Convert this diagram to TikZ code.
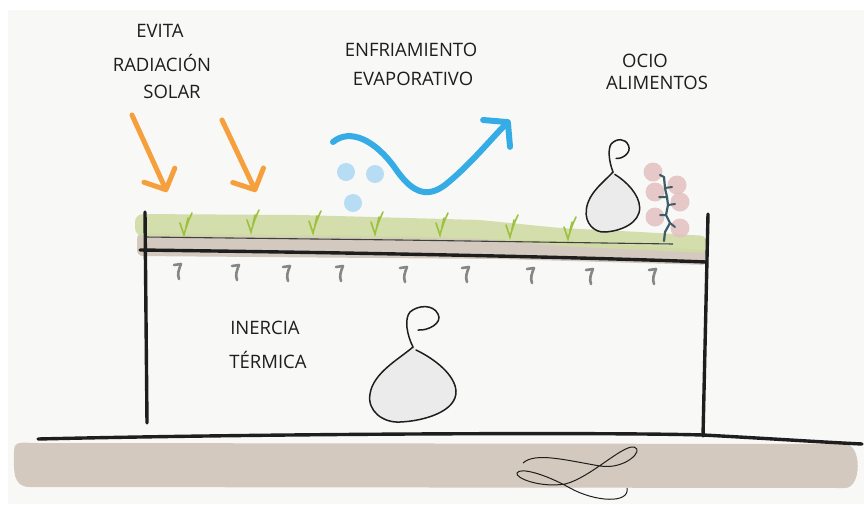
\documentclass[tikz,border=0pt]{standalone}
\usepackage{fontspec}
\setmainfont{Open Sans}
\usetikzlibrary{arrows.meta}

\definecolor{paper}{HTML}{F8F8F7}
\definecolor{ink}{HTML}{1E1E1E}
\definecolor{sun}{HTML}{F5A03C}
\definecolor{vapour}{HTML}{36ACE6}
\definecolor{droplet}{HTML}{B7DDF4}
\definecolor{turf}{HTML}{CFDCA4}
\definecolor{soil}{HTML}{D4C9BE}
\definecolor{leaf}{HTML}{9DC13E}
\definecolor{pebble}{HTML}{868686}
\definecolor{tomato}{HTML}{E4C0C0}
\definecolor{stalk}{HTML}{3D5E68}

\tikzset{
  note/.style={
    inner sep=0pt,
    text=ink,
    text centered,
    align=center,
    font=\fontsize{18.5}{22}\selectfont
  },
  wall/.style={
    draw=ink,
    line width=3.4pt,
    line cap=round
  },
  sunray/.style={
    draw=sun,
    line width=5pt,
    line cap=round,
    -{Straight Barb[length=16pt,width=34pt,line cap=round,line join=round]}
  },
  steam/.style={
    draw=vapour,
    line width=6pt,
    line cap=round,
    -{Straight Barb[length=16pt,width=38pt,line cap=round,line join=round]}
  },
  drop/.pic={
    \fill[black!8] (0,0) .. controls (-14,12) and (-40,26) .. (-43,47)
      .. controls (-46,64) and (-30,76) .. (-13,75)
      .. controls (12,74) and (44,64) .. (43,44)
      .. controls (42,28) and (22,12) .. (0,0) -- cycle;
    \draw[ink, line width=1.5pt, line cap=round]
      (5,-17) .. controls (15,-16) and (30,-24) .. (25,-33)
      .. controls (20,-43) and (5,-42) .. (-3,-35)
      .. controls (-9,-28) and (-6,-12) .. (0,0)
      .. controls (-14,12) and (-40,26) .. (-43,47)
      .. controls (-46,64) and (-30,76) .. (-13,75)
      .. controls (12,74) and (44,64) .. (43,44)
      .. controls (42,28) and (22,12) .. (3,3);
  },
  sprout/.pic={
    \draw[leaf, line width=1.6pt, line cap=round]
      (-4,-12) .. controls (-2,-6) and (-1,-3) .. (0,0)
      .. controls (2,-8) and (5,-16) .. (8,-22);
    \draw[leaf, line width=1.6pt, line cap=round] (2,-8) -- (4,-17);
  },
  curl/.pic={
    \draw[pebble, line width=2.6pt, line cap=round, line join=round]
      (-4,-6) -- (3,-7)
      .. controls (1,-2) and (-1,3) .. (1,8);
  },
}

\begin{document}
\begin{tikzpicture}[x=1pt, y=-1pt]
  \useasboundingbox (0,0) rectangle (864,504);
  \fill[white] (0,0) rectangle (864,504);
  \fill[paper] (8,10) rectangle (864,504);

  \node[note, anchor=center] (evita) at (160, 31) {EVITA};
  \node[note, anchor=center] (radiacion) at (162, 63) {RADIACIÓN};
  \node[note, anchor=center] (solar) at (172, 92) {SOLAR};
  \node[note, anchor=center] (enfriamiento) at (411, 50) {ENFRIAMIENTO};
  \node[note, anchor=center] (evaporativo) at (413, 79) {EVAPORATIVO};
  \node[note, anchor=center] (ocio) at (645, 61) {OCIO};
  \node[note, anchor=center] (alimentos) at (657, 83) {ALIMENTOS};
  \node[note, anchor=center] (inercia) at (265, 328) {INERCIA};
  \node[note, anchor=center] (termica) at (268, 360) {TÉRMICA};

  \fill[soil] (14,452) .. controls (14,440) and (20,443) .. (40,443)
    -- (845,444) .. controls (862,444) and (862,488) .. (845,488)
    -- (30,487) .. controls (12,487) and (14,470) .. (14,452) -- cycle;
  \draw[wall] (38,439) .. controls (250,434) and (600,432) .. (703,435)
    .. controls (760,438) and (820,442) .. (862,444);
  \draw[ink, line width=1pt]
    (523,463) .. controls (535,452) and (565,460) .. (600,466)
    .. controls (625,470) and (645,450) .. (634,447)
    .. controls (622,445) and (590,478) .. (565,484)
    .. controls (540,488) and (515,478) .. (517,473)
    .. controls (520,467) and (545,474) .. (570,488)
    .. controls (595,502) and (630,504) .. (627,488);

  \fill[soil, rounded corners=6] (137,233) -- (400,236) -- (560,241)
    -- (708,250) -- (708,265) -- (500,259) -- (137,256) -- cycle;
  \fill[turf, opacity=.9, rounded corners=8] (135,214) -- (300,215)
    -- (480,220) -- (560,228) -- (640,232) -- (708,236)
    -- (708,253) -- (560,246) -- (480,239) -- (300,237) -- (135,236) -- cycle;
  \draw[ink!85, line width=1.1pt] (145,237) -- (400,240) -- (673,244);
  \draw[wall] (140,250) .. controls (300,252) and (550,256) .. (706,262);
  \draw[wall] (145,212) -- (147,423);
  \draw[wall] (708,214) -- (703,436);

  \foreach \x/\y in {184/235, 251/232, 313/233, 375/234, 440/235, 510/237, 568/239}
    \pic at (\x,\y) {sprout};
  \foreach \x/\y in {178/271, 236/272, 287/273, 340/273, 404/274, 466/274, 531/275, 590/276, 653/276}
    \pic at (\x,\y) {curl};

  \pic at (413,347) {drop};
  \pic[xscale=.62, yscale=.8] at (613,172) {drop};

  \foreach \x/\y in {653/172, 677/185, 655/192, 680/202, 655/217, 680/228}
    \fill[tomato, opacity=.85] (\x,\y) circle (9.5);
  \draw[stalk, line width=2.2pt, line cap=round, line join=round]
    (660,175) -- (664,177) -- (665,188) -- (667,197) -- (668,205)
    -- (666,215) -- (670,223) -- (665,232) -- (664,241);
  \draw[stalk, line width=2pt, line cap=round]
    (665,188) -- (672,187)
    (667,197) -- (659,197)
    (668,205) -- (675,204)
    (666,215) -- (660,215)
    (670,223) -- (675,227);

  \coordinate (ray1a) at (132,115);
  \coordinate (ray1b) at (167,192);
  \coordinate (ray2a) at (222,120);
  \coordinate (ray2b) at (256,192);
  \draw[sunray] (ray1a) -- (ray1b);
  \draw[sunray] (ray2a) -- (ray2b);

  \fill[droplet] (346,172) circle (9);
  \fill[droplet] (375,174) circle (9);
  \fill[droplet] (353,203) circle (9);
  \coordinate (wave) at (333,142);
  \coordinate (plume) at (510,120);
  \draw[steam] (wave) .. controls (350,128) and (375,140) .. (395,168)
    .. controls (410,190) and (425,200) .. (445,185)
    .. controls (470,165) and (490,140) .. (plume);
\end{tikzpicture}
\end{document}
